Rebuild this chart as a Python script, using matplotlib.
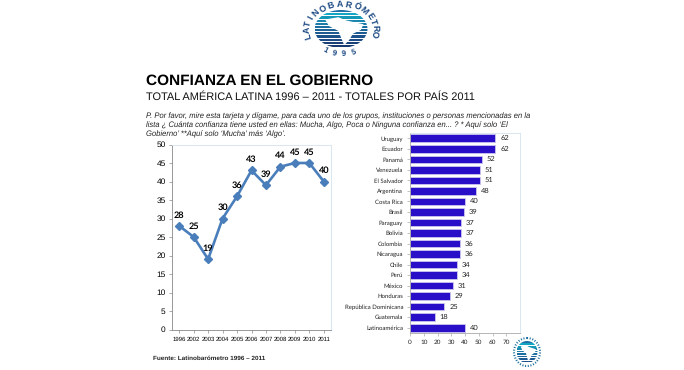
import numpy as np
import matplotlib
matplotlib.use("Agg")
import matplotlib.pyplot as plt
from matplotlib.patches import Ellipse, Polygon, Rectangle

plt.rcParams["text.hinting"] = "none"
plt.rcParams["text.hinting_factor"] = 8

years = ["1996","2002","2003","2004","2005","2006","2007","2008","2009","2010","2011"]
trust = [28,25,19,30,36,43,39,44,45,45,40]
countries = ["Uruguay","Ecuador","Panamá","Venezuela","El Salvador","Argentina","Costa Rica","Brasil",
             "Paraguay","Bolivia","Colombia","Nicaragua","Chile","Perú","México","Honduras",
             "República Dominicana","Guatemala","Latinoamérica"]
country_vals = [62,62,52,51,51,48,40,39,37,37,36,36,34,34,31,29,25,18,40]
title = "CONFIANZA EN EL GOBIERNO"
subtitle = "TOTAL AMÉRICA LATINA 1996 – 2011 - TOTALES POR PAÍS 2011"
question = ["P. Por favor, mire esta tarjeta y dígame, para cada uno de los grupos, instituciones o personas mencionadas en la",
            "lista ¿ Cuánta confianza tiene usted en ellas: Mucha, Algo, Poca o Ninguna confianza en... ? * Aquí solo ‘El",
            "Gobierno’ **Aquí solo ‘Mucha’ más ‘Algo’."]
source = "Fuente: Latinobarómetro 1996 – 2011"
ring_top = "LATINOBARÓMETRO"
ring_bottom = "1995"
W, H = 684, 370
fig = plt.figure(figsize=(W/100, H/100), dpi=100, facecolor="white")

def axpx(l, t, r, b, **kw):
    return fig.add_axes([l/W, 1-b/H, (r-l)/W, (b-t)/H], **kw)

bg = axpx(0, 0, W, H)
bg.set_xlim(0, W); bg.set_ylim(H, 0); bg.axis("off")

SANS = "Liberation Sans"
bg.text(146, 80.5, title, family=SANS, weight="bold", fontsize=11.1, va="center", ha="left", color="black")
bg.text(146, 96.7, subtitle, family=SANS, fontsize=7.92, va="center", ha="left", color="#111111")
for i, line in enumerate(question):
    bg.text(146, 116 + i*9.2, line, family=SANS, style="italic", fontsize=5.5, va="center", ha="left", color="#222222")
bg.text(153, 358, source, family=SANS, weight="bold", fontsize=4.55, va="center", ha="left", color="#222222")

def logo(cx, cy, rx, ry, n=12):
    clip = Ellipse((cx, cy), 2*rx, 2*ry, fc="none", ec="none", transform=bg.transData)
    bg.add_patch(clip)
    cols = ["#1b6fa5","#13a5c4","#1398b8","#1b87ae","#1c7aa6","#1c6fa0","#1c6398","#1c5a92","#1c528b","#1c4a84","#1a4279","#173a6e"]
    for k in range(n):
        y0 = cy - ry + 2*ry*k/n
        r = Rectangle((cx-rx, y0), 2*rx, 2*ry/n*0.7, fc=cols[k], ec="none")
        bg.add_patch(r); r.set_clip_path(clip)
    cont = np.array([[-.6,-.5],[-.1,-.62],[.2,-.45],[.85,-.25],[.75,.05],[.45,.25],[.3,.6],[.12,.85],[0,.45],[-.1,.1],[-.45,-.15]])
    p = Polygon(np.c_[cx+cont[:,0]*rx, cy+cont[:,1]*ry], fc="white", ec="none")
    bg.add_patch(p); p.set_clip_path(clip)

# large logo
cx, cy = 341, 29
logo(cx, cy, 26.5, 19)
for ch, d in zip(ring_top, np.linspace(163, 372, len(ring_top))):
    t = np.radians(d)
    bg.text(cx+34*np.cos(t), cy+24*np.sin(t), ch, family=SANS, weight="bold", fontsize=6.4, color="#1c4a84",
            rotation=270-d, rotation_mode="anchor", ha="center", va="center")
for ch, d in zip(ring_bottom, np.linspace(118, 68, 4)):
    t = np.radians(d)
    bg.text(cx+34*np.cos(t), cy+24.5*np.sin(t), ch, family=SANS, weight="bold", fontsize=5.6, color="#1c4a84",
            rotation=90-d, rotation_mode="anchor", ha="center", va="center")

# small logo
logo(527, 352, 10.5, 11, n=9)
bg.add_patch(Ellipse((527, 352), 26, 28, fc="none", ec="#1c6fa0", lw=1.5, ls=(0, (0.5, 0.8))))

# left line chart
ax = axpx(172, 144.5, 331, 329.5)
x = np.arange(len(years))
ax.plot(x, trust, color="#4a7ebb", lw=1.9, marker="D", ms=4.0, mfc="#4a7ebb", mec="#4a7ebb")
ax.set_xlim(-0.5, len(years)-0.5); ax.set_ylim(0, 50)
ax.set_yticks(range(0, 51, 5))
ax.set_xticks(x, years)
ax.tick_params(axis="y", labelsize=6.0, length=2.5, width=0.5, color="#888888", pad=2)
ax.tick_params(axis="x", labelsize=4.3, length=2.5, width=0.5, color="#888888", pad=2.5)
for l in ax.get_xticklabels()+ax.get_yticklabels():
    l.set_family(SANS)
for s in ["left","bottom"]:
    ax.spines[s].set_color("#888888"); ax.spines[s].set_linewidth(0.6)
for s in ["top","right"]:
    ax.spines[s].set_color("#d5e3ee"); ax.spines[s].set_linewidth(0.6)
for xi, v in zip(x, trust):
    ax.annotate(str(v), (xi, v), xytext=(0, 5), textcoords="offset points", ha="center", va="bottom",
                family="Lato", weight="bold", fontsize=6.6, color="black", zorder=5)

# right bar chart
ax2 = axpx(410, 133, 520, 333)
y = np.arange(len(countries))
ax2.barh(y, country_vals, height=0.72, color="#2a0fc8", edgecolor="#c9c6ee", linewidth=0.6)
ax2.set_xlim(0, 80); ax2.set_ylim(len(countries)-0.5, -0.5)
ax2.set_yticks(y, countries)
ax2.set_xticks(range(0, 71, 10))
ax2.tick_params(axis="y", labelsize=4.3, length=2, width=0.5, color="#aaaaaa", pad=3, labelcolor="#222222")
ax2.tick_params(axis="x", labelsize=4.6, length=2, width=0.5, color="#aaaaaa", pad=3, labelcolor="#222222")
for l in ax2.get_xticklabels()+ax2.get_yticklabels():
    l.set_family("Lato")
for s in ["left","bottom"]:
    ax2.spines[s].set_color("#aaaaaa"); ax2.spines[s].set_linewidth(0.6)
for s in ["top","right"]:
    ax2.spines[s].set_color("#d5e3ee"); ax2.spines[s].set_linewidth(0.6)
for yi, v in zip(y, country_vals):
    ax2.annotate(str(v), (v, yi), xytext=(3.5, 0), textcoords="offset points", va="center", ha="left",
                 family="Lato", fontsize=5.4, color="#222222")
bg.set_zorder(3); bg.patch.set_alpha(0)
fig.savefig("out.png", dpi=100)
